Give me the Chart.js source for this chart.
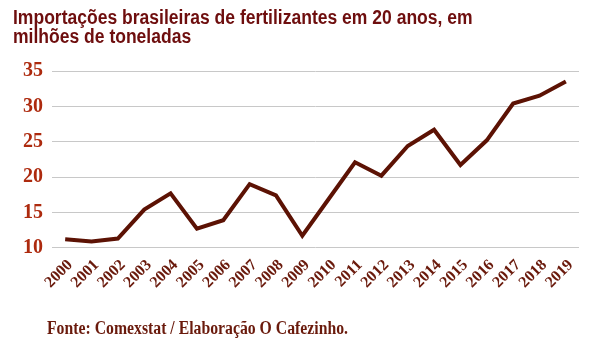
<!DOCTYPE html>
<html>
<head>
<meta charset="utf-8">
<script src="https://cdn.jsdelivr.net/npm/chart.js@4/dist/chart.umd.min.js"></script>
<style>
  html, body { margin: 0; padding: 0; background: #fff; }
  #wrap { width: 595px; height: 344px; position: relative; }
</style>
</head>
<body>
<div id="wrap"><canvas id="chart"></canvas></div>
<script>
var years = ['2000', '2001', '2002', '2003', '2004', '2005', '2006', '2007', '2008', '2009',
  '2010', '2011', '2012', '2013', '2014', '2015', '2016', '2017', '2018', '2019'];
// milhoes de toneladas
var imports = [11.2, 10.9, 11.3, 15.4, 17.7, 12.7, 13.9, 19.0, 17.4, 11.7,
  16.9, 22.1, 20.2, 24.4, 26.7, 21.7, 25.2, 30.4, 31.5, 33.5];
var titleLines = ['Importações brasileiras de fertilizantes em 20 anos, em', 'milhões de toneladas'];
var sourceText = 'Fonte: Comexstat / Elaboração O Cafezinho.';

// the text in the picture is a bit squeezed sideways, so draw it with a scaleX
function squeezedText(c, text, x, y, sx) {
  c.save();
  c.translate(x, y);
  c.scale(sx, 1);
  c.fillText(text, 0, 0);
  c.restore();
}

var texts = {
  id: 'texts',
  afterDraw: function(chart) {
    var c = chart.ctx;
    c.save();
    c.textAlign = 'left';
    c.textBaseline = 'alphabetic';
    // title
    c.font = 'bold 20px "Liberation Sans", Arial, sans-serif';
    c.fillStyle = '#6e0e0e';
    squeezedText(c, titleLines[0], 13, 24, 0.876);
    squeezedText(c, titleLines[1], 13, 42.5, 0.876);
    // source
    c.font = 'bold 18px "Liberation Serif", serif';
    c.fillStyle = '#6a1a0c';
    squeezedText(c, sourceText, chart.chartArea.left - 5, 334, 0.875);
    c.restore();
  }
};

var ctx = document.getElementById('chart').getContext('2d');
var chart = new Chart(ctx, {
  type: 'line',
  data: {
    labels: years,
    datasets: [{
      data: imports,
      borderColor: '#5c1204',
      borderWidth: 4,
      borderJoinStyle: 'miter',
      pointRadius: 0,
      tension: 0,
      fill: false
    }]
  },
  options: {
    responsive: true,
    maintainAspectRatio: false,
    animation: false,
    layout: { padding: { left: 13, right: 16, top: 71, bottom: 52 } },
    plugins: {
      legend: { display: false },
      tooltip: { enabled: false },
      title: { display: false }
    },
    scales: {
      x: {
        offset: true,
        grid: { display: false },
        border: { display: false },
        ticks: {
          autoSkip: false,
          maxRotation: 45,
          minRotation: 45,
          padding: 0,
          labelOffset: 5,
          color: '#6a1a0c',
          font: { family: '"Liberation Serif", serif', size: 16, weight: 'bold' }
        }
      },
      y: {
        min: 10,
        max: 35,
        afterFit: function(scale) { scale.width = 39; },
        grid: { color: '#c8c8c8', lineWidth: 1, drawTicks: false },
        border: { display: false },
        ticks: {
          stepSize: 5,
          padding: 9,
          color: '#ad2a0e',
          font: { family: '"Liberation Serif", serif', size: 20, weight: 'bold' }
        }
      }
    }
  },
  plugins: [texts]
});
</script>
</body>
</html>
